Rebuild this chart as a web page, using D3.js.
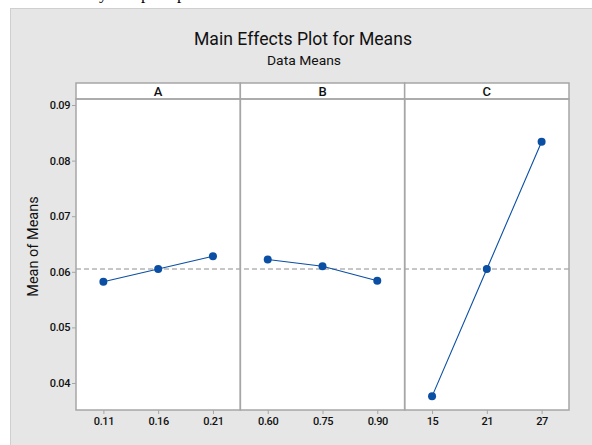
<!DOCTYPE html>
<html><head><meta charset="utf-8">
<script src="https://cdn.jsdelivr.net/npm/d3@7"></script>
<style>body{margin:0;background:#fff}svg{display:block}</style>
</head><body>
<svg id="c" width="592" height="445"></svg>
<script>
const factors = ["A", "B", "C"];
const levelsA = ["0.11", "0.16", "0.21"];
const levelsB = ["0.60", "0.75", "0.90"];
const levelsC = ["15", "21", "27"];
const meansA = [0.0582, 0.0605, 0.0628];
const meansB = [0.0622, 0.0610, 0.0584];
const meansC = [0.0376, 0.0605, 0.0834];
const grandMean = 0.0605;
const yTicks = [0.04, 0.05, 0.06, 0.07, 0.08, 0.09];

const panels = [
  {name: factors[0], levels: levelsA, means: meansA},
  {name: factors[1], levels: levelsB, means: meansB},
  {name: factors[2], levels: levelsC, means: meansC}
];

const svg = d3.select("#c");
const blue = "#0a4fa3";
const border = "#a6a6a6";

// outer gray background
svg.append("rect").attr("x", 10.5).attr("y", 8.5).attr("width", 590).attr("height", 445)
  .attr("fill", "#e6e6e6").attr("stroke", "#cfcfcf").attr("stroke-width", 1);

// cut-off caption fragments at top
const frag = svg.append("text").attr("y", -1).attr("font-family", "Liberation Serif").attr("font-size", 17).attr("fill", "#000");
[["y",99],["p",141],["p",177]].forEach(d => frag.append("tspan").attr("x", d[1]).text(d[0]));

// title
svg.append("text").attr("x", 303).attr("y", 45).attr("text-anchor", "middle")
  .attr("font-family", "Roboto, 'Open Sans', sans-serif").attr("font-size", 17.5).attr("fill", "#111")
  .attr("textLength", 218).attr("lengthAdjust", "spacingAndGlyphs")
  .text("Main Effects Plot for Means");
svg.append("text").attr("x", 304).attr("y", 65).attr("text-anchor", "middle")
  .attr("font-family", "Roboto, 'Open Sans', sans-serif").attr("font-size", 13).attr("fill", "#111")
  .attr("textLength", 74).attr("lengthAdjust", "spacingAndGlyphs")
  .text("Data Means");

const left = 76, right = 569, stripTop = 83, plotTop = 99, bottom = 410;
const x0 = d3.scaleBand().domain(factors).range([left, right]).paddingInner(0).paddingOuter(0);
const y = d3.scaleLinear().domain([0.09 - (bottom - 105) / 5560, 0.09 + (105 - plotTop) / 5560]).range([bottom, plotTop]);

// plot area white
svg.append("rect").attr("x", left).attr("y", stripTop).attr("width", right - left).attr("height", bottom - stripTop).attr("fill", "#fff");

// y axis
const yAxis = d3.axisLeft(y).tickValues(yTicks).tickFormat(d3.format(".2f")).tickSize(4).tickPadding(2);
const ya = svg.append("g").attr("transform", `translate(${left},0)`).call(yAxis);
ya.select(".domain").remove();
ya.selectAll("line").attr("stroke", border);
ya.selectAll("text").attr("font-family", "Roboto, sans-serif").attr("font-size", 11).attr("font-weight", 500).attr("fill", "#111").attr("letter-spacing", -0.4);

svg.append("text").attr("transform", `translate(38,246.5) rotate(-90)`).attr("text-anchor", "middle")
  .attr("font-family", "Roboto, 'Open Sans', sans-serif").attr("font-size", 14.5).attr("fill", "#111")
  .text("Mean of Means");

// reference line
svg.append("line").attr("x1", left).attr("x2", right).attr("y1", y(grandMean)).attr("y2", y(grandMean))
  .attr("stroke", "#b4b4b4").attr("stroke-width", 1.5).attr("stroke-dasharray", "5,3");

panels.forEach(p => {
  const bx = x0(p.name), bw = x0.bandwidth();
  const xs = d3.scalePoint().domain(p.levels).range([bx, bx + bw]).padding(0.5);
  const g = svg.append("g");
  // strip
  g.append("rect").attr("x", bx).attr("y", stripTop).attr("width", bw).attr("height", plotTop - stripTop)
    .attr("fill", "#fff").attr("stroke", border).attr("stroke-width", 1.5);
  g.append("text").attr("x", bx + bw / 2).attr("y", plotTop - 3.5).attr("text-anchor", "middle")
    .attr("font-family", "Roboto, sans-serif").attr("font-size", 13).attr("font-weight", 500).attr("fill", "#111")
    .text(p.name);
  // panel border
  g.append("rect").attr("x", bx).attr("y", plotTop).attr("width", bw).attr("height", bottom - plotTop)
    .attr("fill", "none").attr("stroke", border).attr("stroke-width", 1.5);
  // x axis
  const xa = g.append("g").attr("transform", `translate(0,${bottom})`)
    .call(d3.axisBottom(xs).tickSize(4).tickPadding(3));
  xa.select(".domain").remove();
  xa.selectAll("line").attr("stroke", border);
  xa.selectAll("text").attr("font-family", "Roboto, sans-serif").attr("font-size", 11).attr("font-weight", 500).attr("fill", "#111").attr("letter-spacing", -0.4);
  // line and points
  const pts = p.levels.map((l, i) => [xs(l), y(p.means[i])]);
  g.append("path").attr("d", d3.line()(pts)).attr("fill", "none").attr("stroke", blue).attr("stroke-width", 1.1);
  g.selectAll("circle").data(pts).join("circle").attr("cx", d => d[0]).attr("cy", d => d[1]).attr("r", 4).attr("fill", blue);
});
</script>
</body></html>
